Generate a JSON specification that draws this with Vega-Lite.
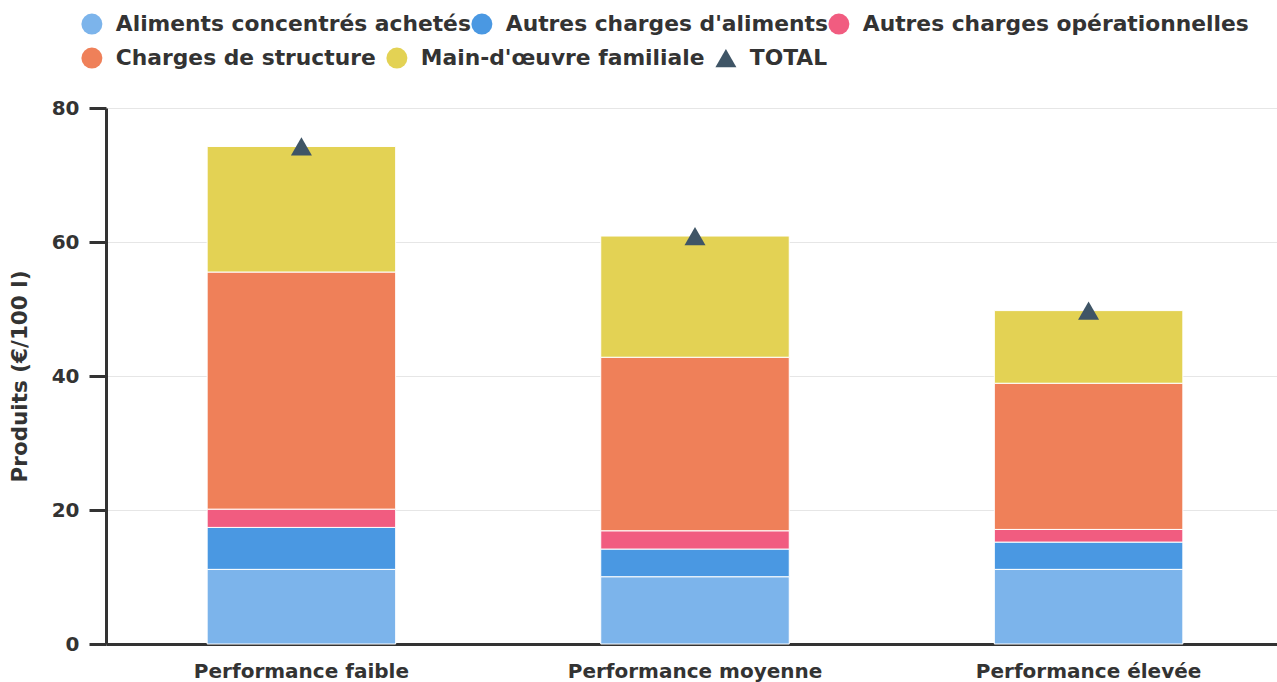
{
  "$schema": "https://vega.github.io/schema/vega-lite/v6.json",
  "width": 1178,
  "height": 536,
  "autosize": {"type": "none"},
  "padding": {"left": 106, "top": 108, "right": 0, "bottom": 38},
  "config": {
    "font": "DejaVu Sans",
    "view": {"stroke": null},
    "background": "white"
  },
  "datasets": {
    "parts": [
      {"perf": "Performance faible", "serie": "Aliments concentrés achetés", "value": 11.14},
      {"perf": "Performance faible", "serie": "Autres charges d'aliments", "value": 6.26},
      {"perf": "Performance faible", "serie": "Autres charges opérationnelles", "value": 2.73},
      {"perf": "Performance faible", "serie": "Charges de structure", "value": 35.39},
      {"perf": "Performance faible", "serie": "Main-d'œuvre familiale", "value": 18.74},
      {"perf": "Performance moyenne", "serie": "Aliments concentrés achetés", "value": 10.04},
      {"perf": "Performance moyenne", "serie": "Autres charges d'aliments", "value": 4.13},
      {"perf": "Performance moyenne", "serie": "Autres charges opérationnelles", "value": 2.73},
      {"perf": "Performance moyenne", "serie": "Charges de structure", "value": 25.9},
      {"perf": "Performance moyenne", "serie": "Main-d'œuvre familiale", "value": 18.09},
      {"perf": "Performance élevée", "serie": "Aliments concentrés achetés", "value": 11.14},
      {"perf": "Performance élevée", "serie": "Autres charges d'aliments", "value": 4.07},
      {"perf": "Performance élevée", "serie": "Autres charges opérationnelles", "value": 1.89},
      {"perf": "Performance élevée", "serie": "Charges de structure", "value": 21.82},
      {"perf": "Performance élevée", "serie": "Main-d'œuvre familiale", "value": 10.84}
    ],
    "totals": [
      {"perf": "Performance faible", "serie": "TOTAL", "value": 74.26},
      {"perf": "Performance moyenne", "serie": "TOTAL", "value": 60.89},
      {"perf": "Performance élevée", "serie": "TOTAL", "value": 49.76}
    ]
  },
  "layer": [
    {
      "data": {"name": "parts"},
      "mark": {"type": "bar", "stroke": "white", "strokeWidth": 1},
      "encoding": {
        "x": {
          "field": "perf", "type": "nominal",
          "sort": ["Performance faible", "Performance moyenne", "Performance élevée"],
          "scale": {"paddingInner": 0.521, "paddingOuter": 0.257},
          "axis": {
            "title": null, "labelAngle": 0, "ticks": false,
            "labelFontSize": 20, "labelFontWeight": "bold", "labelColor": "#333333",
            "labelPadding": 17, "labelLimit": 500,
            "domainColor": "#333333", "domainWidth": 3, "grid": false
          }
        },
        "y": {
          "field": "value", "type": "quantitative", "stack": "zero",
          "scale": {"domain": [0, 80], "nice": false},
          "axis": {
            "title": "Produits (€/100 l)", "titleFontSize": 21.5, "titleFontWeight": "bold",
            "titleColor": "#333333", "titlePadding": 20,
            "values": [0, 20, 40, 60, 80],
            "labelFontSize": 20, "labelFontWeight": "bold", "labelColor": "#333333",
            "labelPadding": 10,
            "tickSize": 17, "tickWidth": 3, "tickColor": "#333333",
            "domainColor": "#333333", "domainWidth": 3,
            "gridColor": "#e6e6e6", "gridWidth": 1
          }
        },
        "order": {"field": "serie", "sort": "ascending"},
        "fill": {
          "field": "serie", "type": "nominal",
          "scale": {
            "domain": ["Aliments concentrés achetés", "Autres charges d'aliments", "Autres charges opérationnelles", "Charges de structure", "Main-d'œuvre familiale"],
            "range": ["#7cb4eb", "#4a98e2", "#f15c80", "#ef8059", "#e3d254"]
          },
          "legend": {
            "title": null, "orient": "none", "legendX": -25, "legendY": -95,
            "direction": "horizontal",
            "values": ["Aliments concentrés achetés", "Autres charges d'aliments", "Autres charges opérationnelles"],
            "symbolType": "circle", "symbolSize": 441,
            "labelFontSize": 21.8, "labelFontWeight": "bold", "labelColor": "#333333",
            "labelOffset": 13, "columnPadding": -2,
            "symbolStrokeWidth": 0, "labelLimit": 600
          }
        }
      }
    },
    {
      "data": {"name": "totals"},
      "mark": {"type": "point", "filled": true, "opacity": 1},
      "encoding": {
        "x": {"field": "perf", "type": "nominal", "sort": ["Performance faible", "Performance moyenne", "Performance élevée"]},
        "y": {"field": "value", "type": "quantitative"},
        "color": {
          "field": "serie", "type": "nominal",
          "scale": {
            "domain": ["Aliments concentrés achetés", "Autres charges d'aliments", "Autres charges opérationnelles", "Charges de structure", "Main-d'œuvre familiale", "TOTAL"],
            "range": ["#7cb4eb", "#4a98e2", "#f15c80", "#ef8059", "#e3d254", "#3f5566"]
          },
          "legend": {
            "title": null, "orient": "none", "legendX": -25, "legendY": -61,
            "direction": "horizontal",
            "values": ["Charges de structure", "Main-d'œuvre familiale", "TOTAL"],
            "labelFontSize": 21.8, "labelFontWeight": "bold", "labelColor": "#333333",
            "labelOffset": 13, "columnPadding": 10,
            "symbolStrokeWidth": 0, "labelLimit": 600
          }
        },
        "shape": {
          "field": "serie", "type": "nominal",
          "scale": {
            "domain": ["Aliments concentrés achetés", "Autres charges d'aliments", "Autres charges opérationnelles", "Charges de structure", "Main-d'œuvre familiale", "TOTAL"],
            "range": ["circle", "circle", "circle", "circle", "circle", "triangle-up"]
          },
          "legend": {
            "title": null, "orient": "none", "legendX": -25, "legendY": -61,
            "direction": "horizontal",
            "values": ["Charges de structure", "Main-d'œuvre familiale", "TOTAL"],
            "labelFontSize": 21.8, "labelFontWeight": "bold", "labelColor": "#333333",
            "labelOffset": 13, "columnPadding": 10,
            "symbolStrokeWidth": 0, "labelLimit": 600
          }
        },
        "size": {
          "field": "serie", "type": "nominal",
          "scale": {
            "domain": ["Aliments concentrés achetés", "Autres charges d'aliments", "Autres charges opérationnelles", "Charges de structure", "Main-d'œuvre familiale", "TOTAL"],
            "range": [441, 441, 441, 441, 441, 230]
          },
          "legend": {
            "title": null, "orient": "none", "legendX": -25, "legendY": -61,
            "direction": "horizontal",
            "values": ["Charges de structure", "Main-d'œuvre familiale", "TOTAL"],
            "labelFontSize": 21.8, "labelFontWeight": "bold", "labelColor": "#333333",
            "labelOffset": 13, "columnPadding": 10,
            "symbolStrokeWidth": 0, "labelLimit": 600
          }
        }
      }
    }
  ]
}
